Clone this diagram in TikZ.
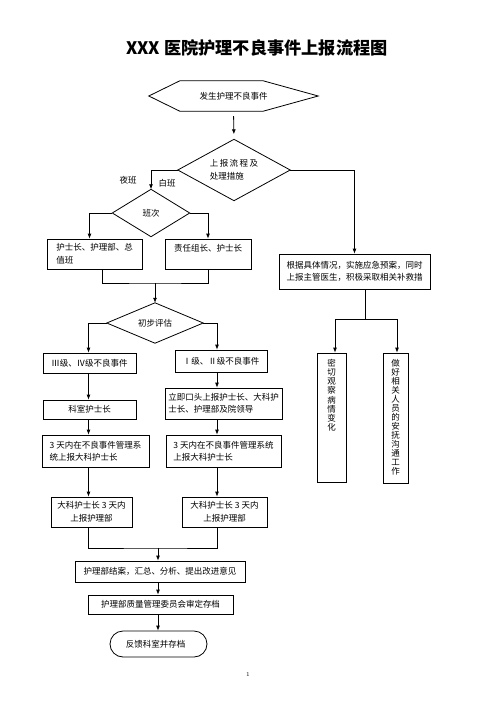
\documentclass[tikz,border=0pt]{standalone}
\usepackage{fontspec}
\newfontfamily\cjk{Noto Sans CJK SC}
\usetikzlibrary{arrows.meta,calc}
\begin{document}
\begin{tikzpicture}[x=1pt,y=-1pt,
  every node/.style={font=\cjk\fontsize{8.5}{12.5}\selectfont, inner sep=0pt},
  box/.style={draw, line width=0.8pt, rectangle, align=left},
  arr/.style={-{Latex[length=5pt,width=4pt]}, line width=0.8pt},
  ln/.style={line width=0.8pt},
  dia/.style={align=left}]
\useasboundingbox (0,0) rectangle (496,702);

\node[font=\cjk\bfseries\fontsize{17.2}{19}\selectfont] (title) at (257,48) {XXX 医院护理不良事件上报流程图};

% start hexagon
\node[minimum width=169, minimum height=30] (start) at (233.5,96) {发生护理不良事件};
\draw[ln] (start.west) -- ([xshift=31pt]start.north west) -- ([xshift=-55pt]start.north east) -- (start.east) -- ([xshift=-55pt]start.south east) -- ([xshift=31pt]start.south west) -- cycle;

% diamonds
\node[dia, minimum width=112, minimum height=61] (d1) at (234,170) {上\,报\,流\,程\,及\\处理措施};
\draw[ln] (d1.north) -- (d1.east) -- (d1.south) -- (d1.west) -- cycle;
\node[dia, minimum width=77, minimum height=47] (d2) at (151,213) {班次};
\draw[ln] (d2.north) -- (d2.east) -- (d2.south) -- (d2.west) -- cycle;
\node[dia, minimum width=96, minimum height=40] (d3) at (155,323) {初步评估};
\draw[ln] (d3.north) -- (d3.east) -- (d3.south) -- (d3.west) -- cycle;

\node (night) at (128,180) {夜班};
\node (day) at (167,183) {白班};

% boxes
\node[box, minimum width=95, minimum height=30] (b1) at (94.5,254) {护士长、护理部、总\\值班};
\node[box, minimum width=86, minimum height=30] (b2) at (208,254) {责任组长、护士长\\\mbox{}};
\node[box, minimum width=151, minimum height=35] (b3) at (354.5,271.5) {根据具体情况，实施应急预案，同时\\上报主管医生，积极采取相关补救措};
\node[box, minimum width=93, minimum height=20] (b4) at (89.5,363) {Ⅲ级、Ⅳ级不良事件};
\node[box, minimum width=92, minimum height=22] (b5) at (221,361) {Ⅰ级、Ⅱ级不良事件};
\node[box, minimum width=93, minimum height=19] (b6) at (89.5,409.5) {科室护士长};
\node[box, minimum width=117, minimum height=31] (b7) at (223.5,403.5) {立即口头上报护士长、大科护\\士长、护理部及院领导};
\node[box, minimum width=107, minimum height=32] (b8) at (95.5,451) {3 天内在不良事件管理系\\统上报大科护士长};
\node[box, minimum width=115, minimum height=32] (b9) at (223.5,451) {3 天内在不良事件管理系统\\上报大科护士长};
\node[box, align=center, minimum width=81, minimum height=30] (b10) at (91.5,512) {大科护士长 3 天内\\上报护理部};
\node[box, align=center, minimum width=85, minimum height=30] (b11) at (224.5,512) {大科护士长 3 天内\\上报护理部};
\node[box, minimum width=170, minimum height=21] (b12) at (160,571.5) {护理部结案，汇总、分析、提出改进意见};
\node[box, minimum width=145, minimum height=19] (b13) at (160.5,604.5) {护理部质量管理委员会审定存档};
\node[box, rounded corners=13pt, minimum width=97, minimum height=26] (b14) at (158.5,644) {反馈科室并存档\hspace{6pt}};

\node[box, minimum width=29] (v1) at (331.5,417.5) {\parbox[c][129pt][t]{29pt}{\centering\fontsize{8.5}{9.2}\selectfont\vspace*{6pt}密\\切\\观\\察\\病\\情\\变\\化}};
\node[box, minimum width=25] (v2) at (395.5,418) {\parbox[c][130pt][t]{25pt}{\centering\fontsize{8.5}{9}\selectfont\vspace*{6pt}做\\好\\相\\关\\人\\员\\的\\安\\抚\\沟\\通\\工\\作}};

\node[font=\fontsize{6}{7}\selectfont] (pg) at (248,674) {1};

% connectors
\coordinate (cl) at (88.5,0);
\coordinate (cr) at (217,0);
\coordinate (m1) at (155,283);
\coordinate (m2) at (158,548);
\coordinate (m3) at (365,319);

\draw[arr, shorten <=5pt, shorten >=5pt] (start.south) -- (d1.north);
\draw[arr] (d1.west) -| (d2.north);
\draw[arr] (d1.east) -| (b3.north);
\draw[arr] (d2.west) -| ([xshift=-5pt]b1.north);
\draw[arr] (d2.east) -| (b2.north);
\draw[ln] ([xshift=7.5pt]b1.south) |- (m1) -| (b2.south);
\draw[arr] (m1) -- (d3.north);
\draw[arr] (d3.west) -| (b4.north -| cl);
\draw[arr] (d3.east) -| (b5.north -| cr);
\draw[arr] (b4.south -| cl) -- (b6.north -| cl);
\draw[arr] (b5.south -| cr) -- (b7.north -| cr);
\draw[arr] (b6.south -| cl) -- (b8.north -| cl);
\draw[arr] (b7.south -| cr) -- (b9.north -| cr);
\draw[arr] (b8.south -| cl) -- (b10.north -| cl);
\draw[arr] (b9.south -| cr) -- (b11.north -| cr);
\draw[ln] (b10.south -| cl) |- (m2) -| (b11.south -| cr);
\draw[arr] (m2) -- (b12.north -| m2);
\draw[arr] (b12.south -| m2) -- (b13.north -| m2);
\draw[arr] (b13.south -| m2) -- (b14.north -| m2);
\draw[ln] (b3.south -| m3) -- (m3);
\draw[arr] (m3) -| ([xshift=3.5pt]v1.north);
\draw[arr] (m3) -| ([xshift=1.5pt]v2.north);
\end{tikzpicture}
\end{document}
